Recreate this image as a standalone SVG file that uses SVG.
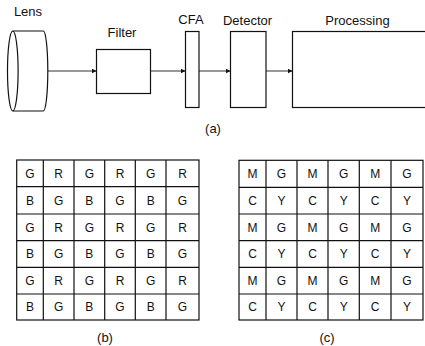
<svg xmlns="http://www.w3.org/2000/svg" width="425" height="346" viewBox="0 0 425 346">
<defs>
<style>
.t{font-family:"Liberation Sans",Arial,sans-serif;font-size:13px;fill:#111;text-anchor:middle}
.g{font-family:"Liberation Sans",Arial,sans-serif;font-size:12px;fill:#111;text-anchor:middle}
.s{fill:none;stroke:#111;stroke-width:1.2}
.w{fill:#fff;stroke:#111;stroke-width:1.2}
.c{stroke:#333;stroke-width:1;fill:none}
</style>
<marker id="ah" markerWidth="5" markerHeight="5" refX="5" refY="2.5" orient="auto" markerUnits="userSpaceOnUse">
<path d="M0,0 L5,2.5 L0,5 Z" fill="#111"/>
</marker>
</defs>
<rect width="425" height="346" fill="#fff"/>
<g id="connectors">
<line class="c" x1="48" y1="71" x2="96.5" y2="71" marker-end="url(#ah)"/>
<line class="c" x1="150.5" y1="71" x2="185.5" y2="71" marker-end="url(#ah)"/>
<line class="c" x1="199" y1="71" x2="230.5" y2="71" marker-end="url(#ah)"/>
<line class="c" x1="266" y1="71" x2="292.5" y2="71" marker-end="url(#ah)"/>
</g>
<g id="lens">
<path class="s" d="M12.8,31 L43.3,31 A4.5,40 0 0 1 43.3,111 L12.8,111"/>
<ellipse class="s" cx="12.8" cy="71" rx="5.3" ry="40"/>
<text class="t" x="28" y="16">Lens</text>
</g>
<g id="filter">
<rect class="w" x="96.5" y="49.5" width="54" height="44"/>
<text class="t" x="122" y="37">Filter</text>
</g>
<g id="cfa">
<rect class="w" x="185.5" y="31.5" width="13.5" height="76"/>
<text class="t" x="191" y="24">CFA</text>
</g>
<g id="detector">
<rect class="w" x="230.5" y="31.5" width="35.5" height="76"/>
<text class="t" x="247.5" y="25">Detector</text>
</g>
<g id="processing">
<rect class="w" x="292.5" y="31.5" width="150" height="76"/>
<text class="t" x="357.5" y="25">Processing</text>
</g>
<text class="t" x="213" y="133">(a)</text>
<g id="bayer">
<rect class="s" x="16.7" y="160" width="182.3" height="160"/>
<path class="s" d="M43.3,160V320M74,160V320M104.7,160V320M135.3,160V320M166,160V320M16.7,186.7H199M16.7,214H199M16.7,240.7H199M16.7,267.3H199M16.7,294H199"/>
<g class="g">
<text x="30" y="177.6">G</text><text x="58.7" y="177.6">R</text><text x="89.3" y="177.6">G</text><text x="120" y="177.6">R</text><text x="150.7" y="177.6">G</text><text x="182.5" y="177.6">R</text>
<text x="30" y="204.6">B</text><text x="58.7" y="204.6">G</text><text x="89.3" y="204.6">B</text><text x="120" y="204.6">G</text><text x="150.7" y="204.6">B</text><text x="182.5" y="204.6">G</text>
<text x="30" y="231.6">G</text><text x="58.7" y="231.6">R</text><text x="89.3" y="231.6">G</text><text x="120" y="231.6">R</text><text x="150.7" y="231.6">G</text><text x="182.5" y="231.6">R</text>
<text x="30" y="258.3">B</text><text x="58.7" y="258.3">G</text><text x="89.3" y="258.3">B</text><text x="120" y="258.3">G</text><text x="150.7" y="258.3">B</text><text x="182.5" y="258.3">G</text>
<text x="30" y="284.9">G</text><text x="58.7" y="284.9">R</text><text x="89.3" y="284.9">G</text><text x="120" y="284.9">R</text><text x="150.7" y="284.9">G</text><text x="182.5" y="284.9">R</text>
<text x="30" y="311.3">B</text><text x="58.7" y="311.3">G</text><text x="89.3" y="311.3">B</text><text x="120" y="311.3">G</text><text x="150.7" y="311.3">B</text><text x="182.5" y="311.3">G</text>
</g>
<text class="t" x="105" y="342">(b)</text>
</g>
<g id="cmyg">
<rect class="s" x="239" y="160.3" width="184" height="159.7"/>
<path class="s" d="M266,160.3V320M297,160.3V320M328,160.3V320M359.3,160.3V320M391,160.3V320M239,187.3H423M239,214H423M239,240.7H423M239,267.3H423M239,294H423"/>
<g class="g">
<text x="252.5" y="178.2">M</text><text x="281.5" y="178.2">G</text><text x="312.5" y="178.2">M</text><text x="343.7" y="178.2">G</text><text x="375.2" y="178.2">M</text><text x="407" y="178.2">G</text>
<text x="252.5" y="204.9">C</text><text x="281.5" y="204.9">Y</text><text x="312.5" y="204.9">C</text><text x="343.7" y="204.9">Y</text><text x="375.2" y="204.9">C</text><text x="407" y="204.9">Y</text>
<text x="252.5" y="231.6">M</text><text x="281.5" y="231.6">G</text><text x="312.5" y="231.6">M</text><text x="343.7" y="231.6">G</text><text x="375.2" y="231.6">M</text><text x="407" y="231.6">G</text>
<text x="252.5" y="258.3">C</text><text x="281.5" y="258.3">Y</text><text x="312.5" y="258.3">C</text><text x="343.7" y="258.3">Y</text><text x="375.2" y="258.3">C</text><text x="407" y="258.3">Y</text>
<text x="252.5" y="284.9">M</text><text x="281.5" y="284.9">G</text><text x="312.5" y="284.9">M</text><text x="343.7" y="284.9">G</text><text x="375.2" y="284.9">M</text><text x="407" y="284.9">G</text>
<text x="252.5" y="311.3">C</text><text x="281.5" y="311.3">Y</text><text x="312.5" y="311.3">C</text><text x="343.7" y="311.3">Y</text><text x="375.2" y="311.3">C</text><text x="407" y="311.3">Y</text>
</g>
<text class="t" x="327" y="342">(c)</text>
</g>
</svg>
